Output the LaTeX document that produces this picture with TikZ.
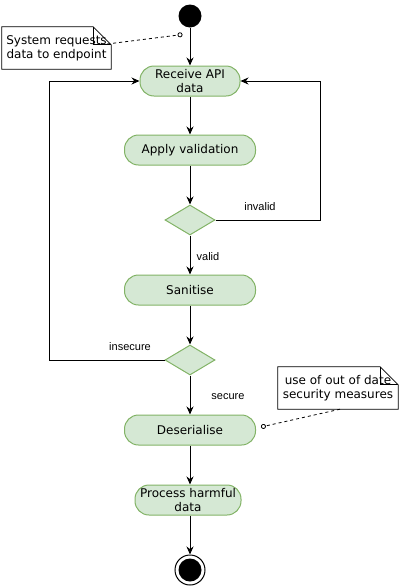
\documentclass[tikz,border=0pt]{standalone}
\usepackage{fontspec}
\setmainfont{DejaVu Sans}
\newfontfamily\labelfont{Liberation Sans}
\usetikzlibrary{arrows.meta,shapes.geometric}
\definecolor{actfill}{HTML}{D5E8D4}
\definecolor{actdraw}{HTML}{82B366}
\tikzset{
  action/.style={draw=actdraw, fill=actfill, line width=1pt, rounded corners=14pt,
    minimum height=30pt, inner sep=0pt, align=center, font=\fontsize{12}{14}\selectfont},
  decision/.style={draw=actdraw, fill=actfill, line width=1pt, shape=diamond,
    minimum width=50pt, minimum height=30pt, inner sep=0pt},
  note/.style={minimum height=42pt, inner sep=0pt, align=center,
    font=\fontsize{12}{14}\selectfont},
  flow/.style={-{Stealth[length=8pt,width=7pt]}, line width=1pt},
  link/.style={-{Circle[open,length=5pt,width=5pt]}, dashed, line width=0.8pt},
  guard/.style={font=\labelfont\fontsize{11}{13}\selectfont},
}
\newcommand{\notebox}[1]{%
  \draw[line width=0.8pt, fill=white] (#1.north west) -- ([xshift=-18pt]#1.north east)
    -- ([yshift=-18pt]#1.north east) -- (#1.south east) -- (#1.south west) -- cycle;
  \draw[line width=0.8pt] ([xshift=-18pt]#1.north east) |- ([yshift=-18pt]#1.north east);}

\begin{document}
\begin{tikzpicture}[x=1pt, y=-1pt, >=Stealth]
  \useasboundingbox (0,0) rectangle (401,587);

  % Start and end
  \node[circle, fill=black, minimum size=23pt, inner sep=0pt] (start) at (190,16) {};
  \node[circle, draw, line width=1pt, minimum size=30pt, inner sep=0pt] (stop) at (190,570) {};
  \node[circle, fill=black, minimum size=23pt, inner sep=0pt] (stopdot) at (190,570) {};

  % Actions
  \node[action, minimum width=100pt] (receive) at (190,81) {Receive API\\data};
  \node[action, minimum width=131pt] (validate) at (190,150) {Apply validation};
  \node[decision] (valid) at (190,220) {};
  \node[action, minimum width=131pt] (sanitise) at (190,290) {Sanitise};
  \node[decision] (secure) at (190,360) {};
  \node[action, minimum width=131pt] (deserialise) at (190,430) {Deserialise};
  \node[action, minimum width=106pt] (process) at (188,500) {Process harmful\\data};

  % Flow
  \draw[flow] (start) -- (receive);
  \draw[flow] (receive) -- (validate);
  \draw[flow] (validate) -- (valid);
  \draw[flow] (valid) -- (sanitise);
  \draw[flow] (sanitise) -- (secure);
  \draw[flow] (secure) -- (deserialise);
  \draw[flow] (deserialise) -- (process.north -| deserialise);
  \draw[flow] (process.south -| stop) -- (stop);
  \draw[flow] (valid.east) -- ++(105,0) |- (receive.east);
  \draw[flow] (secure.west) -- ++(-115,0) |- (receive.west);

  % Guards
  \node[guard] (invalidlbl) at (260,207) {invalid};
  \node[guard] (validlbl) at (208,257) {valid};
  \node[guard] (insecurelbl) at (130,347) {insecure};
  \node[guard] (securelbl) at (228,397) {secure};

  % Notes
  \node[note, minimum width=109pt] (request) at (56.5,48) {};
  \notebox{request}
  \node[note, minimum width=109pt] (requesttext) at (request) {System requests\\data to endpoint};
  \coordinate (requestend) at (182.5,34.5);
  \draw[link] ([xshift=-4pt, yshift=4pt]request.east) -- (requestend);

  \node[note, minimum width=120pt] (outdated) at (338,388) {};
  \notebox{outdated}
  \node[note, minimum width=120pt] (outdatedtext) at (outdated) {use of out of date\\security measures};
  \coordinate (outdatedend) at (261,427);
  \draw[link] ([xshift=2pt]outdated.south) -- (outdatedend);

\end{tikzpicture}
\end{document}
